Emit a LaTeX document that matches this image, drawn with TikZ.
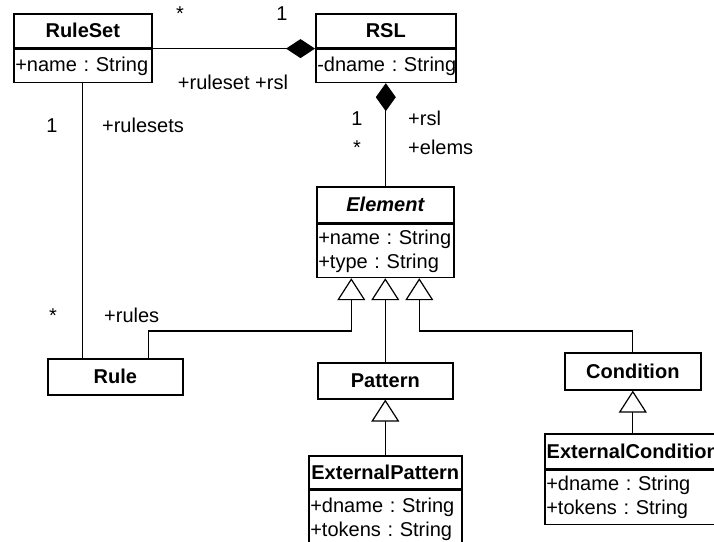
\documentclass[tikz,border=0pt]{standalone}
\usepackage{fontspec}
\setmainfont{Liberation Sans}
\usetikzlibrary{arrows.meta}

% one attribute line, never broken
\newcommand{\umlattr}[1]{\mbox{#1}}

\tikzset{
  umlfont/.style={font=\fontsize{20}{24}\selectfont\frenchspacing},
  classtitle/.style={draw, line width=1.6pt, inner sep=0pt, anchor=north west,
    font=\fontsize{20}{24}\selectfont\bfseries},
  classattrs/.style={draw, line width=1.6pt, inner ysep=0pt, inner xsep=1.5pt,
    anchor=north west, align=left, umlfont},
  lbl/.style={inner sep=0pt, anchor=base, umlfont},
  link/.style={line width=1.2pt},
  compose/.style={link, -{Diamond[length=29pt,width=19pt]}},
  composeup/.style={link, {Diamond[length=28pt,width=20pt]}-},
  generalize/.style={link, -{Triangle[length=22pt,width=28pt,fill=white]}},
}

\begin{document}
\begin{tikzpicture}[x=1pt, y=-1pt]
\useasboundingbox (0,0) rectangle (714,541);
\clip (0,0) rectangle (714,541);

% ---- classes ----
\node[classtitle, minimum width=138pt, minimum height=34pt] (rs) at (13,13) {RuleSet};
\node[classattrs, text width=135pt, minimum height=33pt] (rsA) at (rs.south west)
  {\umlattr{+name : String}};

\node[classtitle, minimum width=140pt, minimum height=34pt] (rsl) at (315,13) {RSL};
\node[classattrs, text width=137pt, minimum height=33pt] (rslA) at (rsl.south west)
  {\umlattr{-dname : String}};

\node[classtitle, minimum width=137pt, minimum height=36pt,
      font=\fontsize{20}{24}\selectfont\bfseries\itshape] (elem) at (316,186) {Element};
\node[classattrs, text width=134pt, minimum height=53pt] (elemA) at (elem.south west)
  {\umlattr{+name : String}\\\umlattr{+type : String}};

\node[classtitle, minimum width=135pt, minimum height=36pt] (rule) at (47,358) {Rule};
\node[classtitle, minimum width=135pt, minimum height=36pt] (pat) at (317,362) {Pattern};
\node[classtitle, minimum width=136pt, minimum height=37pt] (cond) at (564,352) {Condition};

\node[classtitle, minimum width=153pt, minimum height=33pt] (xpat) at (308,455) {ExternalPattern};
\node[classattrs, text width=150pt, minimum height=57pt] (xpatA) at (xpat.south west)
  {\umlattr{+dname : String}\\\umlattr{+tokens : String}};

\node[classtitle, minimum width=176pt, minimum height=35pt] (xcond) at (544,433) {ExternalCondition};
\node[classattrs, text width=173pt, minimum height=54pt] (xcondA) at (xcond.south west)
  {\umlattr{+dname : String}\\\umlattr{+tokens : String}};

% ---- attachment points ----
\coordinate (g1) at ([xshift=-34pt]elemA.south);
\coordinate (g2) at (elemA.south);
\coordinate (g3) at ([xshift=34pt]elemA.south);
\coordinate (bus) at (0,331);
\coordinate (ruletop) at ([xshift=33.5pt]rule.north);

% ---- associations ----
\draw[compose] (rs.south east) -- (rsl.south west);
\draw[composeup] (rslA.south) -- (rslA.south |- elem.north);
\draw[link] (rsA.south) -- (rsA.south |- rule.north);

% ---- generalizations ----
\draw[generalize] (ruletop) |- (g1 |- bus) -- (g1);
\draw[generalize] (pat.north) -- (g2);
\draw[generalize] (cond.north) |- (g3 |- bus) -- (g3);
\draw[generalize] (xpat.north) -- (pat.south);
\draw[generalize] (xcond.north) -- (cond.south);

% ---- role names and multiplicities ----
\node[lbl] (m1) at (180,20) {*};
\node[lbl] (m2) at (282,20) {1};
\node[lbl] (r1) at (233,89) {+ruleset +rsl};
\node[lbl] (m3) at (52,132) {1};
\node[lbl] (r2) at (143,132) {+rulesets};
\node[lbl] (m4) at (357,125) {1};
\node[lbl, anchor=base west] (r3) at (408,125) {+rsl};
\node[lbl] (m5) at (357,154) {*};
\node[lbl, anchor=base west] (r4) at (408,154) {+elems};
\node[lbl] (m6) at (53,322) {*};
\node[lbl, anchor=base west] (r5) at (104,322) {+rules};
\end{tikzpicture}
\end{document}
